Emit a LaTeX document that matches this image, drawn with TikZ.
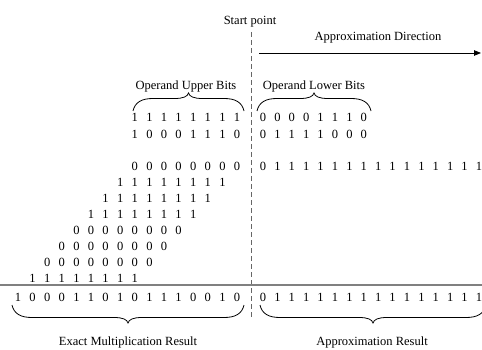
\documentclass[tikz,border=0pt]{standalone}
\usepackage{fontspec}
\setmainfont{Liberation Serif}
\usetikzlibrary{arrows.meta}
\newcommand\bitrow[5]{%
  \foreach \b [count=\i from 0] in {#5} \node[bit] (#1-\i) at ({#2+\i*#3},#4) {\b};}
\newcommand\curlybrace[4]{%
  \draw[bracepath] (#1,#3) .. controls ({#1+2},{#3+#4*9}) and ({#1+9},{#3+#4*12.5}) .. ({#1+20},{#3+#4*12.5})
   -- ({(#1+#2)/2-14},{#3+#4*12.5}) .. controls ({(#1+#2)/2-5},{#3+#4*12.5}) and ({(#1+#2)/2-1},{#3+#4*14.5}) .. ({(#1+#2)/2},{#3+#4*18})
   .. controls ({(#1+#2)/2+1},{#3+#4*14.5}) and ({(#1+#2)/2+5},{#3+#4*12.5}) .. ({(#1+#2)/2+14},{#3+#4*12.5})
   -- ({#2-20},{#3+#4*12.5}) .. controls ({#2-9},{#3+#4*12.5}) and ({#2-2},{#3+#4*9}) .. (#2,#3);}
\begin{document}
\begin{tikzpicture}[x=1pt,y=-1pt,
  lbl/.style={font=\fontsize{12.5}{14}\selectfont, inner sep=0pt, text height=8.5pt, text depth=0pt},
  bit/.style={font=\fontsize{12.5}{14}\selectfont, inner sep=0pt, text height=8.5pt, text depth=0pt},
  divider/.style={draw=black!60, line width=0.9pt, dash pattern=on 5pt off 3pt},
  sumline/.style={draw=black!50, line width=1.8pt},
  bracepath/.style={draw=black, line width=0.8pt},
  dirarrow/.style={draw=black, line width=0.8pt, -{Triangle[length=7pt,width=5.5pt]}}]
\useasboundingbox (0,0) rectangle (482,350);
% labels
\node[lbl] (start) at (250,20) {Start point};
\node[lbl] (dir) at (378,36) {Approximation Direction};
\node[lbl] (upper) at (186,85) {Operand Upper Bits};
\node[lbl] (lower) at (314,85) {Operand Lower Bits};
\node[lbl] (exact) at (128,341) {Exact Multiplication Result};
\node[lbl] (approx) at (372,341) {Approximation Result};
% divider and direction arrow
\coordinate (divTop) at (251,32);
\coordinate (divBot) at (251,318);
\draw[divider] (divTop) -- (divBot);
\coordinate (dirS) at (259,53);
\coordinate (dirE) at (481,53);
\draw[dirarrow] (dirS) -- (dirE);
% operands
\bitrow{opAhi}{134.8}{14.6}{117}{1,1,1,1,1,1,1,1}
\bitrow{opAlo}{263}{14.4}{117}{0,0,0,0,1,1,1,0}
\bitrow{opBhi}{134.8}{14.6}{134}{1,0,0,0,1,1,1,0}
\bitrow{opBlo}{263}{14.4}{134}{0,1,1,1,1,0,0,0}
% partial products
\bitrow{ppAhi}{134.8}{14.6}{166}{0,0,0,0,0,0,0,0}
\bitrow{ppAlo}{263}{14.4}{166}{0,1,1,1,1,1,1,1,1,1,1,1,1,1,1,1}
\bitrow{ppB}{120.2}{14.6}{182}{1,1,1,1,1,1,1,1}
\bitrow{ppC}{105.6}{14.6}{198}{1,1,1,1,1,1,1,1}
\bitrow{ppD}{91.0}{14.6}{214}{1,1,1,1,1,1,1,1}
\bitrow{ppE}{76.4}{14.6}{230}{0,0,0,0,0,0,0,0}
\bitrow{ppF}{61.8}{14.6}{246}{0,0,0,0,0,0,0,0}
\bitrow{ppG}{47.2}{14.6}{262}{0,0,0,0,0,0,0,0}
\bitrow{ppH}{32.6}{14.6}{278}{1,1,1,1,1,1,1,1}
% sum line
\coordinate (sumL) at (0,285);
\coordinate (sumR) at (482,285);
\draw[sumline] (sumL) -- (sumR);
% results
\bitrow{resHi}{18}{14.6}{297}{1,0,0,0,1,1,0,1,0,1,1,1,0,0,1,0}
\bitrow{resLo}{263}{14.4}{297}{0,1,1,1,1,1,1,1,1,1,1,1,1,1,1,1}
% braces
\curlybrace{133}{244}{111}{-1}
\curlybrace{257}{371}{111}{-1}
\curlybrace{12}{244}{305}{1}
\curlybrace{260}{486}{305}{1}
\end{tikzpicture}
\end{document}
